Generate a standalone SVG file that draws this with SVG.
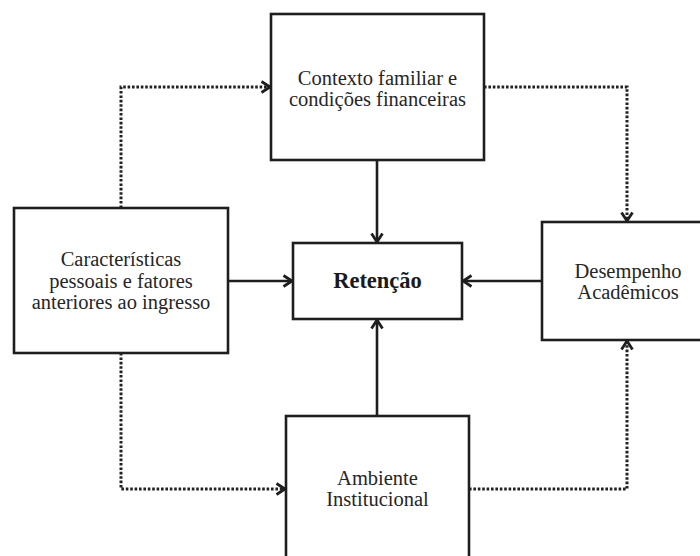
<svg xmlns="http://www.w3.org/2000/svg" width="700" height="556" viewBox="0 0 700 556">
<style>
.box{fill:#fff;stroke:#1e1e1e;stroke-width:2.6}
.t{font-family:"Liberation Serif","Times New Roman",serif;font-size:20.5px;fill:#262626;text-anchor:middle}
.b{font-weight:bold;font-size:22.5px;fill:#1a1a1a}
.solid{fill:none;stroke:#1e1e1e;stroke-width:2.6}
.dot{fill:none;stroke:#222;stroke-width:3;stroke-dasharray:2.6 1.8}
</style>
<defs>
<marker id="ah" markerUnits="userSpaceOnUse" markerWidth="14" markerHeight="14" viewBox="0 0 14 14" refX="11.5" refY="7" orient="auto">
<path d="M3,1.5 L11.5,7 L3,12.5" fill="none" stroke="#1e1e1e" stroke-width="2.8"/>
</marker>
</defs>
<rect width="700" height="556" fill="#fff"/>
<g id="connectors">
<path class="solid" d="M377,160 V242" marker-end="url(#ah)"/>
<path class="solid" d="M228,281 H292" marker-end="url(#ah)"/>
<path class="solid" d="M542,281 H463" marker-end="url(#ah)"/>
<path class="solid" d="M377,416 V320" marker-end="url(#ah)"/>
<path class="dot" d="M121,208 V87 H270" marker-end="url(#ah)"/>
<path class="dot" d="M484,87 H627 V221" marker-end="url(#ah)"/>
<path class="dot" d="M121,353 V489 H285" marker-end="url(#ah)"/>
<path class="dot" d="M469,489 H627 V341" marker-end="url(#ah)"/>
</g>
<g id="contexto">
<rect class="box" x="271" y="14" width="213" height="146"/>
<text class="t" x="377.5" y="85">Contexto familiar e</text>
<text class="t" x="377.5" y="106">condições financeiras</text>
</g>
<g id="caracteristicas">
<rect class="box" x="14" y="208" width="214" height="145"/>
<text class="t" x="121" y="266">Características</text>
<text class="t" x="121" y="288">pessoais e fatores</text>
<text class="t" x="121" y="309">anteriores ao ingresso</text>
</g>
<g id="retencao">
<rect class="box" x="293" y="243" width="169" height="76"/>
<text class="t b" x="377.5" y="288">Retenção</text>
</g>
<g id="desempenho">
<rect class="box" x="542" y="222" width="172" height="118"/>
<text class="t" x="628" y="278">Desempenho</text>
<text class="t" x="628" y="299">Acadêmicos</text>
</g>
<g id="ambiente">
<rect class="box" x="286" y="416" width="183" height="160"/>
<text class="t" x="377.5" y="485">Ambiente</text>
<text class="t" x="377.5" y="506">Institucional</text>
</g>
</svg>
